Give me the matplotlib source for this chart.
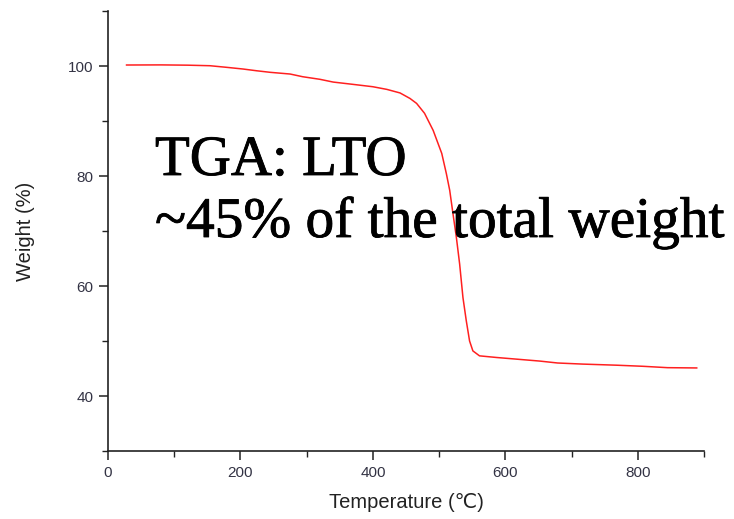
import matplotlib
matplotlib.use("Agg")
import matplotlib.pyplot as plt
import matplotlib.patheffects as pe
from matplotlib.ticker import MultipleLocator

temperature = [28, 80, 120, 154, 179, 204, 224, 245, 275, 294, 320, 340, 370, 400, 421,
               441, 456, 466, 478, 491, 504, 511, 516, 521, 526, 531, 536, 541, 546, 551,
               561, 587, 617, 652, 679, 717, 768, 808, 845, 889]
weight = [100.18, 100.2, 100.15, 100.05, 99.76, 99.45, 99.14, 98.85, 98.54, 98.05, 97.58,
          97.08, 96.66, 96.23, 95.75, 95.1, 94.1, 93.2, 91.4, 88.3, 84.1, 80.4, 77.4, 73.1,
          68.9, 64.0, 57.9, 53.7, 50.0, 48.2, 47.3, 47.0, 46.7, 46.35, 46.0, 45.8, 45.6,
          45.4, 45.15, 45.1]

x_ticks = [0, 200, 400, 600, 800]
y_ticks = [40, 60, 80, 100]
line1 = "TGA: LTO"
line2 = "~45% of the total weight"

sans = ["Liberation Sans", "DejaVu Sans"]

fig = plt.figure(figsize=(7.34, 5.19), dpi=100)
ax = fig.add_axes([108/734, 1-451/519, (704-108)/734, (451-11)/519])
ax.plot(temperature, weight, color="#ff2020", lw=1.1)
ax.set_xlim(0, 900)
ax.set_ylim(30, 110)
ax.set_xticks(x_ticks)
ax.set_yticks(y_ticks)
ax.xaxis.set_minor_locator(MultipleLocator(100))
ax.yaxis.set_minor_locator(MultipleLocator(10))
for s in ["top", "right"]:
    ax.spines[s].set_visible(False)
for s in ["left", "bottom"]:
    ax.spines[s].set_color("#222222")
    ax.spines[s].set_linewidth(1.2)
ax.tick_params(which="major", direction="out", length=6.5, width=1.1, color="#222222",
               labelsize=11, labelcolor="#333344", pad=4)
ax.tick_params(which="minor", direction="out", length=4, width=1.0, color="#222222")
for lab in ax.get_xticklabels() + ax.get_yticklabels():
    lab.set_family(sans)

ax.set_xlabel("Temperature (℃)", fontsize=14.5, family=sans, color="#222222", labelpad=10)
ax.set_ylabel("Weight (%)", fontsize=14.5, family=sans, color="#222222", labelpad=24)

stroke = [pe.withStroke(linewidth=0.6, foreground="black")]
fig.text(155/734, 1-175/519, line1, fontsize=41, family="Liberation Serif",
         color="black", ha="left", va="baseline", path_effects=stroke)
fig.text(155/734, 1-237/519, line2, fontsize=41.3, family="Liberation Serif",
         color="black", ha="left", va="baseline", path_effects=stroke)

fig.savefig("out.png", dpi=100)
